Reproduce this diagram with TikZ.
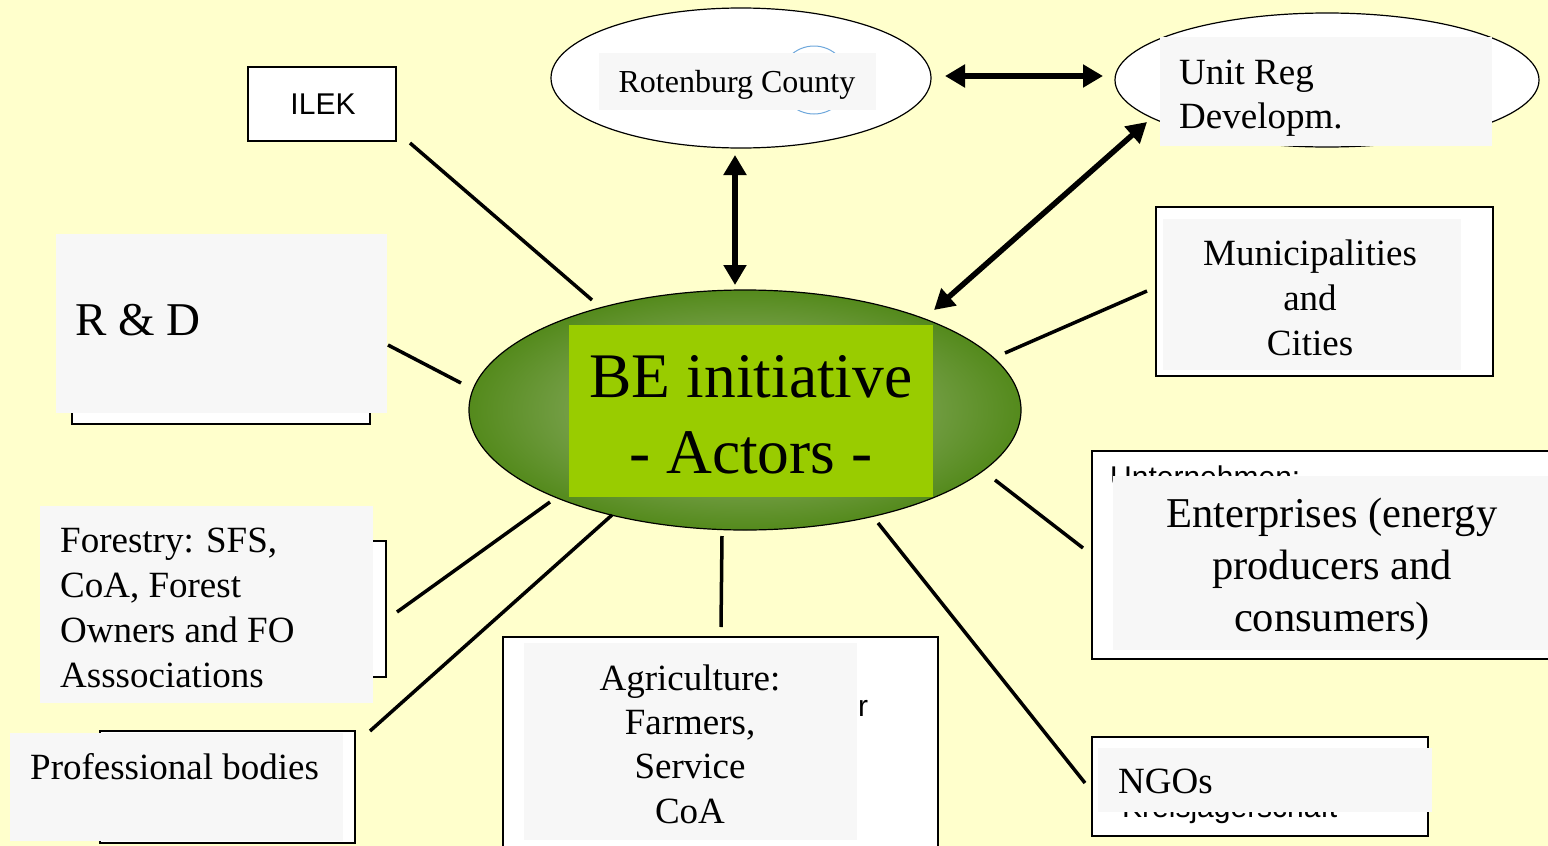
\documentclass[tikz,border=0pt]{standalone}
\usepackage{fontspec}
\setmainfont{Liberation Serif}
\newfontfamily\arialf{Liberation Sans}
\usetikzlibrary{arrows.meta}
\definecolor{bgyellow}{HTML}{FFFFCC}
\definecolor{panelgray}{HTML}{F7F7F7}
\definecolor{limegreen}{HTML}{99CC00}
\definecolor{darkleaf}{RGB}{84,138,28}
\definecolor{paleleaf}{RGB}{170,192,140}
\definecolor{arcblue}{HTML}{6FA8DC}
\tikzset{
  conn/.style={line width=3.5pt},
  dblarrow/.style={line width=5.5pt,{Triangle[length=20pt,width=22pt]}-{Triangle[length=20pt,width=22pt]}},
  framebox/.style={draw=black,line width=1.6pt,fill=white},
  oval/.style={draw=black,line width=1.2pt,fill=white},
  panel/.style={fill=panelgray},
  bodytxt/.style={inner sep=0pt,font=\fontsize{37}{45}\selectfont},
  sanstxt/.style={inner sep=0pt,font=\arialf\fontsize{30}{36}\selectfont},
}
\begin{document}
\begin{tikzpicture}[x=1pt,y=-1pt]
\fill[bgyellow] (0,0) rectangle (1548,846);
\useasboundingbox (0,0) rectangle (1548,846);

% ---- top ellipses
\draw[oval] (741,78) ellipse [x radius=190,y radius=70];
\draw[arcblue,line width=1pt] (814,80) circle [radius=34];
\fill[panel] (599,53) rectangle (876,110);
\node[inner sep=0pt,font=\fontsize{32}{38}\selectfont] (rot) at (737,85) {Rotenburg County};

\draw[oval] (1327,80) ellipse [x radius=212,y radius=67];
\fill[panel] (1160,37) rectangle (1492,146);
\node[inner sep=0pt,anchor=west,align=left,font=\fontsize{37}{44}\selectfont] (unit) at (1179,98) {Unit Reg\\Developm.};

% ---- centre
\shadedraw[inner color=paleleaf,outer color=darkleaf,draw=black,line width=1.2pt] (745,410) ellipse [x radius=276,y radius=120];
\fill[limegreen] (569,325) rectangle (933,497);
\node[inner sep=0pt,align=center,font=\fontsize{63.5}{76}\selectfont] (be) at (751,415) {BE initiative\\- Actors -};

% ---- ILEK
\draw[framebox] (248,67) rectangle (396,141);
\node[sanstxt] (ilek) at (323,104) {ILEK};

% ---- R & D
\draw[framebox] (72,250) rectangle (370,424);
\fill[panel] (56,234) rectangle (387,413);
\node[inner sep=0pt,anchor=west,font=\fontsize{47}{56}\selectfont] (rd) at (75,320) {R \& D};

% ---- Forestry
\draw[framebox] (300,541) rectangle (386,677);
\fill[panel] (40,506) rectangle (373,703);
\node[bodytxt,anchor=west,align=left] (forest) at (60,608) {Forestry: SFS,\\CoA, Forest\\Owners and FO\\Asssociations};

% ---- Professional bodies
\draw[framebox] (100,731) rectangle (355,843);
\fill[panel] (10,733) rectangle (343,841);
\node[bodytxt,anchor=west] (prof) at (30,767) {Professional bodies};

% ---- Agriculture
\draw[framebox] (503,637) rectangle (938,852);
\node[sanstxt,anchor=base west] (agrr) at (858,716) {r};
\fill[panel] (524,643) rectangle (857,840);
\node[bodytxt,align=center,font=\fontsize{37}{44.3}\selectfont] (agri) at (690,744) {Agriculture:\\Farmers,\\Service\\CoA};

% ---- Municipalities
\draw[framebox] (1156,207) rectangle (1493,376);
\fill[panel] (1163,219) rectangle (1461,370);
\node[bodytxt,align=center] (muni) at (1310,298) {Municipalities\\and\\Cities};

% ---- Enterprises
\draw[framebox] (1092,451) rectangle (1560,659);
\node[sanstxt,anchor=base west] (unter) at (1110,487) {Unternehmen:};
\fill[panel] (1113,476) rectangle (1560,650);
\node[inner sep=0pt,align=center,font=\fontsize{42.5}{52}\selectfont] (ent) at (1332,569) {Enterprises (energy\\producers and\\consumers)};

% ---- NGOs
\draw[framebox] (1092,737) rectangle (1428,836);
\node[sanstxt,anchor=base west] (kjs) at (1122,817) {Kreisjägerschaft};
\fill[panel] (1098,748) rectangle (1432,812);
\node[bodytxt,anchor=west] (ngo) at (1118,781) {NGOs};

% ---- connector end points
\coordinate (ilekA) at (410,143);   \coordinate (ilekB) at (592,300);
\coordinate (rdA) at (388,345);     \coordinate (rdB) at (461,383);
\coordinate (forA) at (397,612);    \coordinate (forB) at (550,502);
\coordinate (proA) at (370,731);    \coordinate (proB) at (612,515);
\coordinate (agrA) at (722,536);    \coordinate (agrB) at (721,627);
\coordinate (ngoA) at (878,523);    \coordinate (ngoB) at (1085,783);
\coordinate (entA) at (995,480);    \coordinate (entB) at (1083,548);
\coordinate (munA) at (1005,353);   \coordinate (munB) at (1147,291);
\coordinate (rotS) at (735,155);    \coordinate (beN) at (735,285);
\coordinate (rotE) at (945,76);     \coordinate (unitW) at (1103,76);
\coordinate (unitSW) at (1147,122); \coordinate (beNE) at (934,310);

\draw[conn] (ilekA) -- (ilekB);
\draw[conn] (rdA) -- (rdB);
\draw[conn] (forA) -- (forB);
\draw[conn] (proA) -- (proB);
\draw[conn] (agrA) -- (agrB);
\draw[conn] (ngoA) -- (ngoB);
\draw[conn] (entA) -- (entB);
\draw[conn] (munA) -- (munB);
\draw[dblarrow] (rotS) -- (beN);
\draw[dblarrow] (rotE) -- (unitW);
\draw[dblarrow] (unitSW) -- (beNE);
\end{tikzpicture}
\end{document}
